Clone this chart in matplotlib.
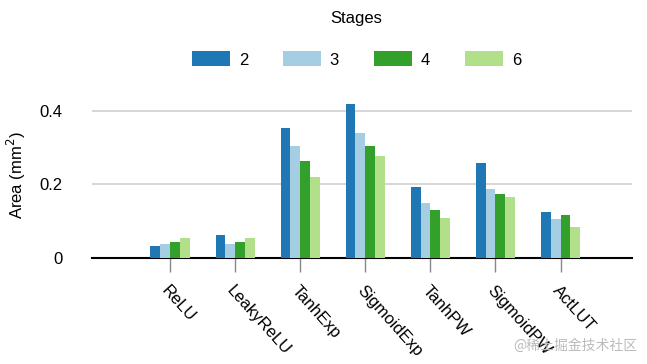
import numpy as np
import matplotlib
matplotlib.use('Agg')
import matplotlib.pyplot as plt

plt.rcParams['font.family'] = ['Liberation Sans', 'DejaVu Sans']

categories = ['ReLU', 'LeakyReLU', 'TanhExp', 'SigmoidExp', 'TanhPW', 'SigmoidPW', 'ActLUT']
stages = ['2', '3', '4', '6']
area_2 = [0.032, 0.064, 0.353, 0.418, 0.193, 0.257, 0.125]
area_3 = [0.038, 0.037, 0.304, 0.341, 0.151, 0.189, 0.105]
area_4 = [0.044, 0.044, 0.263, 0.305, 0.131, 0.175, 0.116]
area_6 = [0.055, 0.055, 0.221, 0.276, 0.110, 0.165, 0.085]
colors = ['#1f78b4', '#a6cee3', '#33a02c', '#b2df8a']

fig = plt.figure(figsize=(6.47, 3.64), dpi=100)
ax = fig.add_axes([0.142, 0.291, 0.835, 0.455])

x = np.arange(len(categories))
w = 0.15
for i, (vals, lab) in enumerate(zip([area_2, area_3, area_4, area_6], stages)):
    ax.bar(x + (i - 1.5) * w, vals, w, color=colors[i], label=lab, zorder=3)

ax.set_xlim(-1.2, 7.1)
ax.set_ylim(0, 0.45)
ax.set_yticks([0, 0.2, 0.4])
ax.set_yticklabels(['0', '0.2', '0.4'], fontsize=12)
ax.yaxis.grid(True, color='#d0d0d0', linewidth=1.2, zorder=0)
ax.tick_params(axis='y', length=0, pad=21)
ax.set_xticks(x)
ax.set_xticklabels(categories, rotation=-48, ha='left', va='top',
                   rotation_mode='anchor', fontsize=12)
ax.tick_params(axis='x', length=10, color='#888888', width=1, pad=8)
for s in ['top', 'right', 'left']:
    ax.spines[s].set_visible(False)
ax.spines['bottom'].set_linewidth(1.5)
ax.set_ylabel('Area (mm$^2$)', fontsize=12, labelpad=8)

leg = fig.legend(title='Stages', loc='upper center', bbox_to_anchor=(0.551, 1.01),
                 ncol=4, frameon=False, fontsize=12, title_fontsize=12,
                 handlelength=2.3, handleheight=1.0, columnspacing=2.1,
                 handletextpad=0.5)
leg._legend_box.sep = 18

fig.text(0.985, 0.03, '@稀土掘金技术社区', ha='right', va='bottom', fontsize=10,
         color='#bbbbbb', family=['Noto Sans CJK SC', 'DejaVu Sans'])

fig.savefig('out.png', dpi=100)
